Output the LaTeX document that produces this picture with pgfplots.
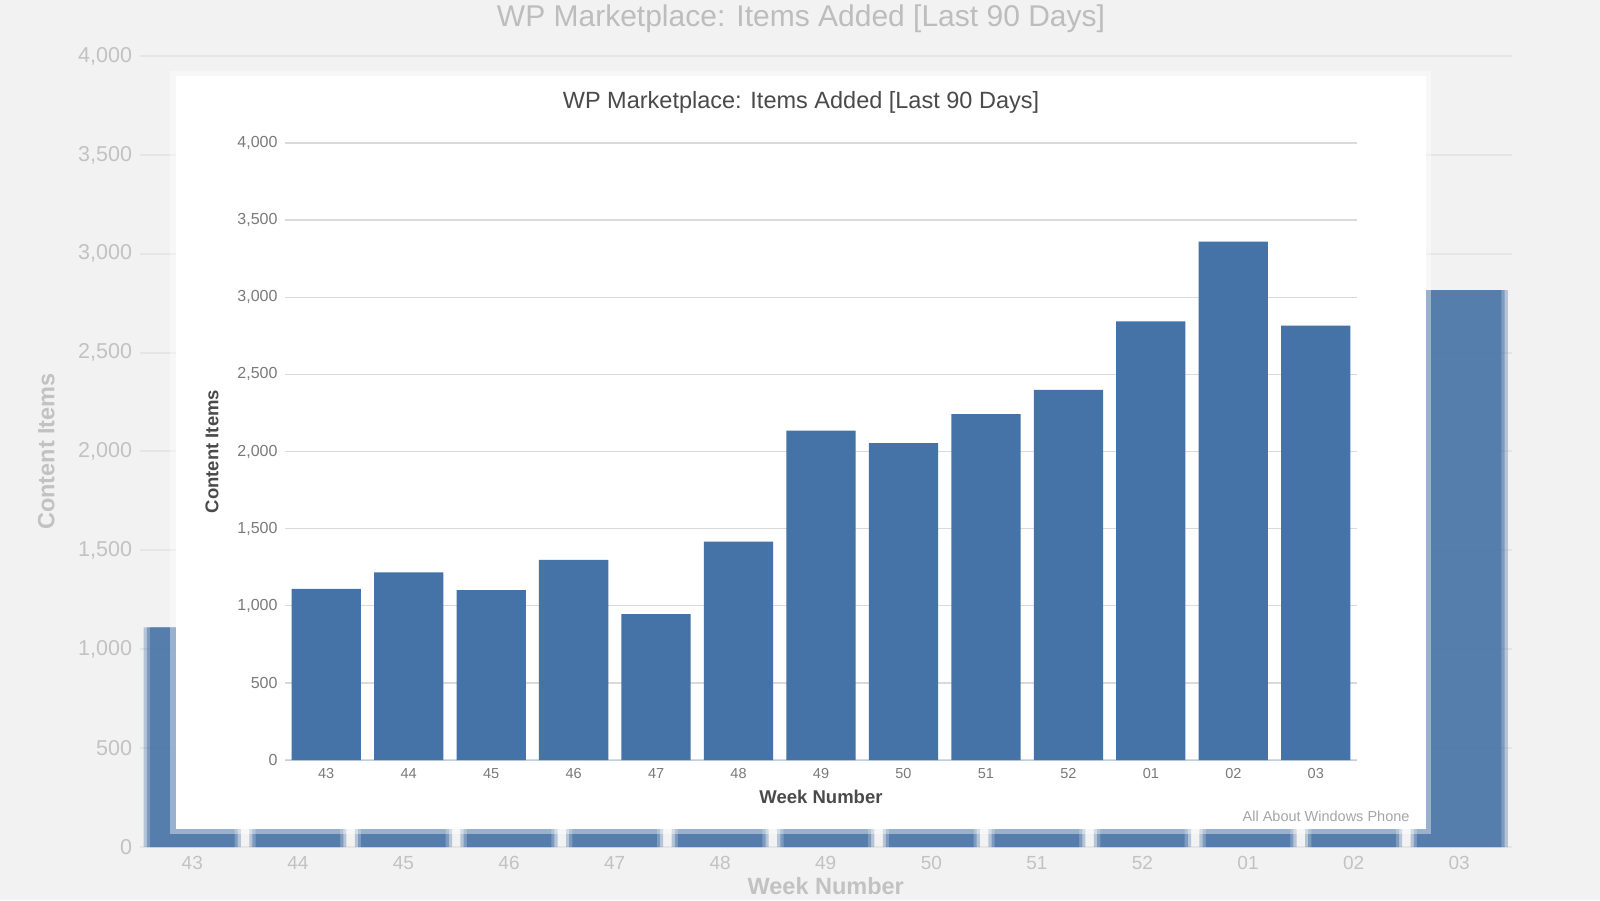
\documentclass[border=0pt]{standalone}
\usepackage{fontspec}
\setmainfont{Liberation Sans}
\usepackage{pgfplots}
\usepackage{pgfplotstable}
\pgfplotsset{compat=1.18}
\definecolor{barblue}{HTML}{4572A7}
\definecolor{gridgray}{HTML}{DADADA}
\definecolor{ticktext}{HTML}{7A7A7A}
\definecolor{titletext}{HTML}{4A4A4A}
\definecolor{axisline}{HTML}{C0D0E0}

\pgfplotstableread{
idx items
0 1110
1 1217
2 1102
3 1297
4 945
5 1416
6 2136
7 2054
8 2242
9 2400
10 2843
11 3361
12 2816
}\datatable

\pgfplotsset{
  wpchart/.style={
    scale only axis,
    xmin=-0.5, xmax=12.5, ymin=0, ymax=4000,
    axis lines*=left,
    x axis line style={draw=axisline},
    y axis line style={draw=none},
    ytick distance=500,
    xtick={0,...,12},
    xticklabels={43,44,45,46,47,48,49,50,51,52,01,02,03},
    tick style={draw=none},
    ymajorgrids,
    /pgf/number format/assume math mode=true,
    /pgf/number format/1000 sep={,},
    scaled y ticks=false,
    clip=false,
  }
}

\begin{document}
\begin{tikzpicture}[x=1pt,y=1pt]
\useasboundingbox (0,0) rectangle (1600,900);
\clip (0,0) rectangle (1600,900);
\fill[black!5] (0,0) rectangle (1600,900);

% blurred background copy of the chart
\begin{axis}[wpchart,
  at={(139.5pt,53pt)}, anchor=south west,
  width=1372.5pt, height=791pt,
  grid style={draw=black!10, line width=2pt},
  x axis line style={draw=none},
  ticklabel style={font=\fontsize{21.5}{24}\selectfont, text=black!24},
  xticklabel style={font=\fontsize{19}{22}\selectfont},
  yticklabel style={xshift=-4pt},
  xticklabel style={yshift=-6pt},
  xlabel={\bfseries Week Number},
  ylabel={\bfseries Content Items},
  label style={font=\fontsize{23.5}{26}\selectfont, text=black!24},
  x label style={at={(axis description cs:0.5,-0.050)}, anchor=center},
  y label style={at={(axis description cs:-0.068,0.5)}, anchor=center, rotate=0},
]
\addplot[ybar, bar width=0.92, fill=barblue, draw=none, fill opacity=0.35] table[x=idx,y=items]{\datatable};
\addplot[ybar, bar width=0.86, fill=barblue, draw=none, fill opacity=0.5] table[x=idx,y=items]{\datatable};
\addplot[ybar, bar width=0.80, fill=barblue, draw=none, fill opacity=0.7] table[x=idx,y=items]{\datatable};
\end{axis}
\node[font=\fontsize{30}{33}\selectfont, text=black!26] at (801,881) {WP Marketplace: Items Added [Last 90 Days]};

% front panel
\fill[white, opacity=0.4] (170,66) rectangle (1431,829);
\fill[white] (175.5,71.5) rectangle (1425.5,823.5);

% main chart
\begin{axis}[wpchart,
  at={(285pt,140pt)}, anchor=south west,
  width=1072pt, height=617pt,
  grid style={draw=gridgray, line width=1.3pt},
  ticklabel style={font=\fontsize{16}{19}\selectfont, text=ticktext},
  xticklabel style={font=\fontsize{14.5}{17}\selectfont},
  yticklabel style={xshift=-4pt},
  xticklabel style={yshift=-5pt},
  xlabel={\bfseries Week Number},
  ylabel={\bfseries Content Items},
  label style={font=\fontsize{18.5}{21}\selectfont, text=titletext},
  x label style={at={(axis description cs:0.5,-0.06)}, anchor=center},
  y label style={at={(axis description cs:-0.068,0.5)}, anchor=center, rotate=0},
]
\addplot[ybar, bar width=0.84, fill=barblue, draw=none] table[x=idx,y=items]{\datatable};
\end{axis}

\node[font=\fontsize{23.5}{26}\selectfont, text=titletext] at (801,798) {WP Marketplace: Items Added [Last 90 Days]};
\node[font=\fontsize{14.5}{17}\selectfont, text=black!35, anchor=east] at (1413,84) {All About Windows Phone};
\end{tikzpicture}
\end{document}
